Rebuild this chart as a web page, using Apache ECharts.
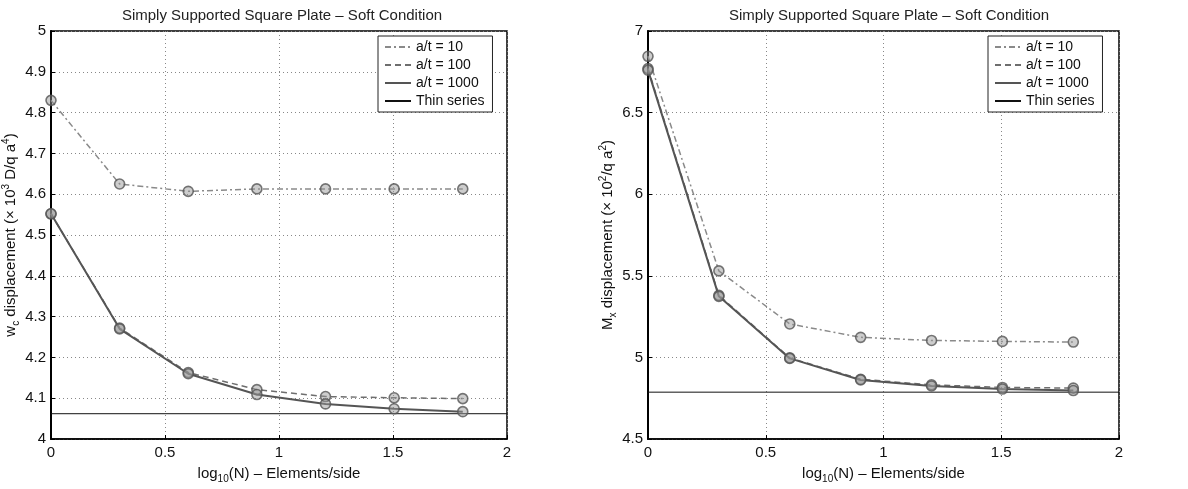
<!DOCTYPE html>
<html>
<head>
<meta charset="utf-8">
<script src="https://cdn.jsdelivr.net/npm/echarts@6/dist/echarts.min.js"></script>
<style>
    html, body { margin: 0; padding: 0; background: #fff; }
    #chart { width: 1188px; height: 489px; }
</style>
</head>
<body>
<div id="chart"></div>
<script>
    // log10 of elements per side: 1, 2, 4, 8, 16, 32, 64
    var logN = [0, 0.301, 0.602, 0.903, 1.204, 1.505, 1.806];
    var seriesNames = ['a/t = 10', 'a/t = 100', 'a/t = 1000', 'Thin series'];

    // left plot: centre displacement
    var wc10 = [4.83, 4.625, 4.607, 4.613, 4.613, 4.613, 4.613];
    var wc100 = [4.552, 4.272, 4.163, 4.121, 4.104, 4.101, 4.099];
    var wc1000 = [4.552, 4.27, 4.16, 4.109, 4.086, 4.074, 4.067];
    var wcThin = 4.062;

    // right plot: moment Mx
    var mx10 = [6.845, 5.53, 5.205, 5.123, 5.104, 5.098, 5.094];
    var mx100 = [6.77, 5.38, 4.997, 4.866, 4.832, 4.816, 4.812];
    var mx1000 = [6.76, 5.374, 4.994, 4.862, 4.825, 4.806, 4.797];
    var mxThin = 4.787;

    var xTicks = [0, 0.5, 1, 1.5, 2];

    function pairs(ys) {
        return logN.map(function (x, i) { return [x, ys[i]]; });
    }
    function flat(v) {
        return [[xTicks[0], v], [xTicks[xTicks.length - 1], v]];
    }

    var lineStyles = [
        {color: '#8a8a8a', width: 1.5, type: [6, 3, 2, 3]},
        {color: '#6e6e6e', width: 1.5, type: [6, 4]},
        {color: '#555', width: 2, type: 'solid'},
        {color: '#111', width: 1, type: 'solid'}
    ];

    function plotSeries(idx, sets, thin) {
        var out = [];
        sets.forEach(function (ys, k) {
            out.push({
                name: seriesNames[k],
                type: 'line',
                xAxisIndex: idx,
                yAxisIndex: idx,
                symbol: 'none',
                lineStyle: lineStyles[k],
                itemStyle: {color: lineStyles[k].color},
                data: pairs(ys),
                z: 3
            });
            out.push({
                type: 'scatter',
                xAxisIndex: idx,
                yAxisIndex: idx,
                symbol: 'circle',
                symbolSize: 10,
                itemStyle: {color: 'rgba(150,150,150,0.6)', borderColor: '#555', borderWidth: 1.6},
                data: pairs(ys),
                z: 4
            });
        });
        out.push({
            name: seriesNames[3],
            type: 'line',
            xAxisIndex: idx,
            yAxisIndex: idx,
            symbol: 'none',
            lineStyle: lineStyles[3],
            itemStyle: {color: lineStyles[3].color},
            data: flat(thin),
            z: 2
        });
        return out;
    }

    var font = 'Liberation Sans, Arial, sans-serif';
    var splitDotted = {show: true, lineStyle: {color: '#888', type: [1, 3], width: 1}};

    function xAxisFor(idx) {
        return {
            gridIndex: idx,
            type: 'value',
            min: 0, max: 2, interval: 0.5,
            axisLine: {show: true, onZero: false, lineStyle: {color: '#000', width: 1.5}},
            axisTick: {show: true, inside: true, length: 4, lineStyle: {color: '#000'}},
            axisLabel: {color: '#111', fontSize: 15, fontFamily: font, margin: 6},
            splitLine: splitDotted,
            name: '{a|log}{sub|10}{a|(N) – Elements/side}',
            nameLocation: 'middle',
            nameGap: 25,
            nameTextStyle: {
                rich: {
                    a: {fontSize: 15, fontFamily: font, color: '#111'},
                    sub: {fontSize: 10, fontFamily: font, color: '#111', padding: [10, 0, 0, 0]}
                }
            }
        };
    }

    function yAxisFor(idx, min, max, step, nameParts) {
        return {
            gridIndex: idx,
            type: 'value',
            min: min, max: max, interval: step,
            axisLine: {show: true, onZero: false, lineStyle: {color: '#000', width: 2}},
            axisTick: {show: true, inside: true, length: 4, lineStyle: {color: '#000'}},
            axisLabel: {color: '#111', fontSize: 15, fontFamily: font, margin: 5},
            splitLine: splitDotted,
            name: nameParts,
            nameLocation: 'middle',
            nameGap: 30,
            nameTextStyle: {
                rich: {
                    a: {fontSize: 15, fontFamily: font, color: '#111'},
                    sub: {fontSize: 10, fontFamily: font, color: '#111', padding: [10, 0, 0, 0]},
                    sup: {fontSize: 10, fontFamily: font, color: '#111', padding: [0, 0, 10, 0]}
                }
            }
        };
    }

    function legendFor(left) {
        return {
            data: seriesNames,
            orient: 'vertical',
            left: left,
            top: 36,
            padding: [4, 8, 4, 6],
            itemGap: 4,
            itemWidth: 26,
            itemHeight: 14,
            backgroundColor: '#fff',
            borderColor: '#222',
            borderWidth: 1,
            borderRadius: 0,
            selectedMode: false,
            itemStyle: {opacity: 0},
            textStyle: {fontSize: 14, fontFamily: font, color: '#111'}
        };
    }

    var chart = echarts.init(document.getElementById('chart'));
    chart.setOption({
        backgroundColor: '#fff',
        animation: false,
        title: [
            {
                text: 'Simply Supported Square Plate – Soft Condition',
                left: 277, top: 3, textAlign: 'center',
                textStyle: {fontSize: 15, fontWeight: 'normal', fontFamily: font, color: '#222'}
            },
            {
                text: 'Simply Supported Square Plate – Soft Condition',
                left: 884, top: 3, textAlign: 'center',
                textStyle: {fontSize: 15, fontWeight: 'normal', fontFamily: font, color: '#222'}
            }
        ],
        legend: [legendFor(378), legendFor(988)],
        grid: [
            {left: 48, top: 31, width: 459, height: 411, show: true, borderColor: '#000', borderWidth: 1.5, backgroundColor: '#fff'},
            {left: 648, top: 31, width: 471, height: 412, show: true, borderColor: '#000', borderWidth: 1.5, backgroundColor: '#fff'}
        ],
        xAxis: [xAxisFor(0), xAxisFor(1)],
        yAxis: [
            yAxisFor(0, 4, 5, 0.1, '{a|w}{sub|c}{a| displacement (× 10}{sup|3}{a| D/q a}{sup|4}{a|)}'),
            yAxisFor(1, 4.5, 7, 0.5, '{a|M}{sub|x}{a| displacement (× 10}{sup|2}{a|/q a}{sup|2}{a|)}')
        ],
        series: plotSeries(0, [wc10, wc100, wc1000], wcThin)
            .concat(plotSeries(1, [mx10, mx100, mx1000], mxThin))
    });
</script>
</body>
</html>
